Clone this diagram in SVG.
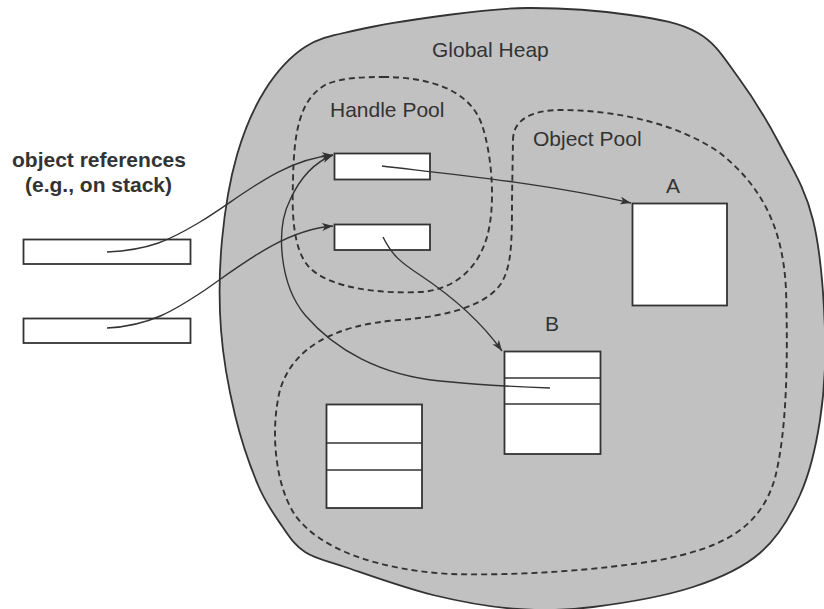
<svg xmlns="http://www.w3.org/2000/svg" width="824" height="609" viewBox="0 0 824 609">
<style>
.lbl{font-family:"Liberation Sans",Arial,sans-serif;font-size:21px;fill:#333}
.bold{font-weight:bold}
.box{fill:#fff;stroke:#333;stroke-width:1.8}
.div{stroke:#333;stroke-width:1.4}
.pool{fill:none;stroke:#333;stroke-width:1.9;stroke-dasharray:6 4}
.conn{fill:none;stroke:#333;stroke-width:1.4;marker-end:url(#ah)}
</style>
<defs>
<marker id="ah" markerUnits="userSpaceOnUse" markerWidth="12" markerHeight="8" refX="11" refY="4" orient="auto">
<path d="M0,0 L11,4 L0,8 L3,4 Z" fill="#333"/>
</marker>
</defs>
<rect width="824" height="609" fill="#fff"/>
<g id="global-heap">
<path d="M527,8 C495.3,8.2 468.3,12.3 440,16 C411.7,19.7 379.5,24.8 357,30 C334.5,35.2 320.3,37 305,47 C289.7,57 276.3,72 265,90 C253.7,108 244.2,130 237,155 C229.8,180 224.7,210.8 222,240 C219.3,269.2 218.8,300.8 221,330 C223.2,359.2 228.8,389.2 235,415 C241.2,440.8 250.2,466.5 258,485 C265.8,503.5 274.2,514.8 282,526 C289.8,537.2 294.5,545.2 305,552 C315.5,558.8 323.7,559.8 345,567 C366.3,574.2 404.3,588 433,595 C461.7,602 490.3,607 517,609 C543.7,611 563.7,610.7 593,607 C622.3,603.3 665.2,596 693,587 C720.8,578 742.2,568.3 760,553 C777.8,537.7 790,517.2 800,495 C810,472.8 815.8,447.5 820,420 C824.2,392.5 826.2,363.3 825,330 C823.8,296.7 820.5,250.8 813,220 C805.5,189.2 792.5,168.8 780,145 C767.5,121.2 751.7,95.7 738,77 C724.3,58.3 716,43.3 698,33 C680,22.7 658.5,19.2 630,15 C601.5,10.8 558.7,7.8 527,8 Z" fill="#c1c1c1" stroke="#333" stroke-width="1.8"/>
<text class="lbl" x="432" y="57">Global Heap</text>
</g>
<g id="handle-pool">
<path class="pool" d="M383,77 C430,77 470,90 482,125 C492,155 496,205 487,237 C478,268 455,290 420,292 C380,294 330,288 310,268 C292,250 292,210 293,180 C294,130 300,100 325,85 C340,78 360,77 383,77 Z"/>
<text class="lbl" x="330" y="117">Handle Pool</text>
</g>
<g id="object-pool">
<path class="pool" d="M513,140 C513,118 535,110 560,110 C620,110 680,125 720,153 C760,185 783,225 786,290 C788,360 787,430 775,478 C760,530 720,548 660,560 C600,570 520,576 450,574 C380,570 320,550 295,515 C275,485 270,430 280,390 C292,350 330,325 400,320 C450,316 485,305 500,285 C512,268 512,240 512,200 Z"/>
<text class="lbl" x="533" y="146">Object Pool</text>
</g>
<g id="stack-label">
<text class="lbl bold" x="12" y="167">object references</text>
<text class="lbl bold" x="25" y="192">(e.g., on stack)</text>
</g>
<g id="stack-ref-1"><rect class="box" x="23.5" y="239.5" width="167" height="24.5"/></g>
<g id="stack-ref-2"><rect class="box" x="23.5" y="318.5" width="167" height="24.5"/></g>
<g id="handle-1"><rect class="box" x="334.5" y="153.5" width="95.5" height="26"/></g>
<g id="handle-2"><rect class="box" x="334.5" y="224.5" width="95.5" height="25.5"/></g>
<g id="object-a">
<rect class="box" x="632.5" y="203.5" width="94.5" height="102"/>
<text class="lbl" x="673" y="193" text-anchor="middle">A</text>
</g>
<g id="object-b">
<rect class="box" x="504.5" y="351.5" width="96" height="102.5"/>
<line class="div" x1="504.5" y1="378" x2="600.5" y2="378"/>
<line class="div" x1="504.5" y1="404" x2="600.5" y2="404"/>
<text class="lbl" x="552" y="331" text-anchor="middle">B</text>
</g>
<g id="object-c">
<rect class="box" x="326.5" y="404.5" width="95.5" height="103.5"/>
<line class="div" x1="326.5" y1="443" x2="422" y2="443"/>
<line class="div" x1="326.5" y1="470" x2="422" y2="470"/>
</g>
<g id="connectors">
<path class="conn" d="M107,252 C150,250 170,240 200,222 C240,198 280,160 333,155"/>
<path class="conn" d="M107,328 C150,326 175,310 205,290 C245,262 285,230 333,226"/>
<path class="conn" d="M382,166 C430,172 540,182 631,203"/>
<path class="conn" d="M383,237 C392,255 400,262 420,275 C450,295 480,320 502,351"/>
<path class="conn" d="M550,388 C520,387 480,385 440,381 C380,375 335,350 305,315 C280,285 275,230 290,200 C300,178 315,162 333,155"/>
</g>
</svg>
